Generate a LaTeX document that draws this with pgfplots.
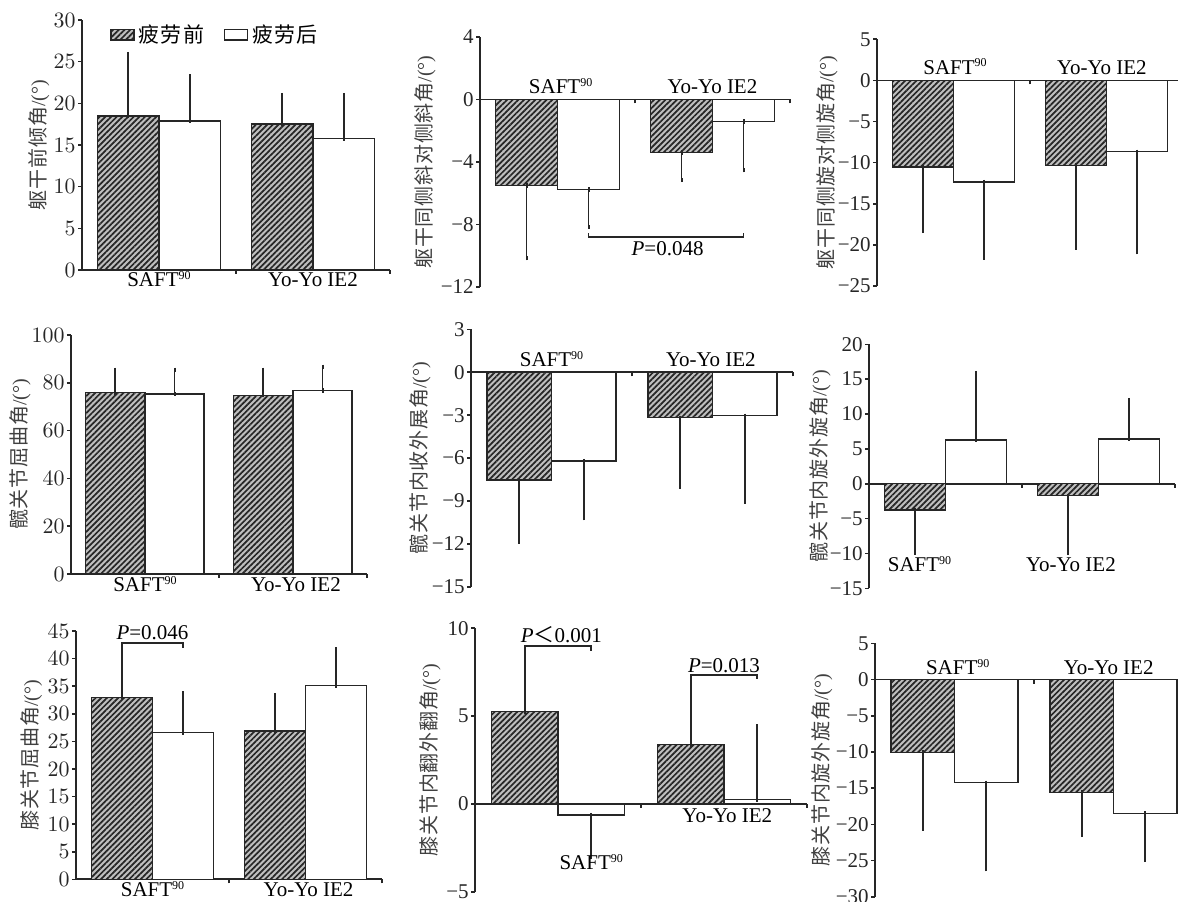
\documentclass[border=0pt]{standalone}
\usepackage{fontspec}
\setmainfont{Liberation Serif}
\newfontfamily\cjk[LetterSpace=4]{Noto Sans CJK SC}
\newfontfamily\cjkleg[LetterSpace=6]{Noto Sans CJK SC}
\newfontfamily\cjkplain{Noto Sans CJK SC}
\usepackage{pgfplots}
\pgfplotsset{compat=1.18}
\usetikzlibrary{patterns.meta}

\pgfplotsset{
  panel/.style={
    scale only axis,
    axis y line*=left,
    axis x line*=middle,
    axis line style={-, line width=0.9pt, black!85},
    xmin=0.5, xmax=2.5,
    xtick={1.5,2.5}, xticklabels={},
    tick style={line width=0.8pt, black!85},
    major tick length=2pt,
    tick align=outside,
    ybar, bar width=0.4,
    clip=false,
    yticklabel style={font=\fontsize{10.5}{12}\selectfont, inner xsep=1pt, black!85},
    ylabel style={font=\fontsize{10}{11}\selectfont, black!75, anchor=center},
  },
  pre/.style={bar shift=-0.2, draw=black!85, line width=0.7pt, fill=black!25,
    postaction={pattern={Lines[angle=45,distance=2pt,line width=0.85pt]}, pattern color=black!85},
    error bars/.cd, y dir=both, y explicit, error mark=-,
    error bar style={line width=0.9pt, black!85},
    error mark options={black!85, line width=1pt, mark size=1.1pt}},
  post/.style={bar shift=0.2, draw=black!85, line width=0.7pt, fill=white,
    error bars/.cd, y dir=both, y explicit, error mark=-,
    error bar style={line width=0.9pt, black!85},
    error mark options={black!85, line width=1pt, mark size=1.1pt}},
}
\newcommand{\cat}{\fontsize{10.5}{12}\selectfont}
\newcommand{\saft}{SAFT\raisebox{0.75ex}{\fontsize{6}{6}\selectfont 90}}

\begin{document}
\begin{tikzpicture}
\useasboundingbox (0,0) rectangle (589pt,450.5pt);

% ---------- Panel 1 ----------
\begin{axis}[panel, at={(41pt,315.5pt)}, anchor=south west, width=154pt, height=125pt,
  ymin=0, ymax=30, ytick={0,5,10,15,20,25,30},
  ylabel={{\cjk 躯干前倾角}/(°)},
  ylabel style={at={(axis description cs:-0.14,0.5)}},
  area legend,
  legend image code/.code={\draw[#1] (0pt,-2.6pt) rectangle (11.5pt,2.6pt);},
  legend style={at={(axis description cs:0.09,1.0)}, anchor=north west, draw=none, fill=none,
    font=\cjkleg\fontsize{10.5}{12}\selectfont, inner sep=0pt, legend columns=2,
    /tikz/every even column/.append style={column sep=8pt}},
  legend cell align=left]
\addplot[pre] table[x=x,y=y,y error plus=ep,y error minus=em] {
x y ep em
1 18.5 7.4 0
2 17.5 3.5 0
};
\addplot[post] table[x=x,y=y,y error plus=ep,y error minus=em] {
x y ep em
1 17.9 5.3 0
2 15.8 5.2 0
};
\legend{疲劳前,疲劳后}
\node[anchor=base, font=\cat] at (axis cs:1,0) [yshift=-8.5pt] {\saft};
\node[anchor=base, font=\cat] at (axis cs:2,0) [yshift=-8.5pt] {Yo-Yo IE2};
\end{axis}

% ---------- Panel 2 ----------
\begin{axis}[panel, at={(240pt,307pt)}, anchor=south west, width=155pt, height=125pt,
  ymin=-12, ymax=4, ytick={-12,-8,-4,0,4}, yticklabels={−12,−8,−4,0,4},
  ylabel={{\cjk 躯干同侧斜对侧斜角}/(°)},
  ylabel style={at={(axis description cs:-0.177,0.5)}}]
\addplot[pre] table[x=x,y=y,y error plus=ep,y error minus=em] {
x y ep em
1 -5.5 0 4.65
2 -3.38 0 1.77
};
\addplot[post] table[x=x,y=y,y error plus=ep,y error minus=em] {
x y ep em
1 -5.75 0 2.4
2 -1.42 0 3.1
};
\node[anchor=base, font=\cat] at (axis cs:1.02,0) [yshift=2.9pt] {\saft};
\node[anchor=base, font=\cat] at (axis cs:2.0,0) [yshift=2.9pt] {Yo-Yo IE2};
\draw[line width=0.8pt, black!85] (axis cs:1.2,-8.55) -- (axis cs:1.2,-8.8) -- (axis cs:2.2,-8.8) -- (axis cs:2.2,-8.55);
\node[anchor=base, font=\cat] at (axis cs:1.71,-9.98) {\textit{P}=0.048};
\end{axis}

% ---------- Panel 3 ----------
\begin{axis}[panel, at={(438.5pt,307.5pt)}, anchor=south west, width=153pt, height=123.35pt,
  ymin=-25, ymax=5, ytick={-25,-20,-15,-10,-5,0,5}, yticklabels={−25,−20,−15,−10,−5,0,5},
  ylabel={{\cjk 躯干同侧旋对侧旋角}/(°)},
  ylabel style={at={(axis description cs:-0.163,0.5)}}]
\addplot[pre] table[x=x,y=y,y error plus=ep,y error minus=em] {
x y ep em
1 -10.55 0 7.75
2 -10.34 0 10.0
};
\addplot[post] table[x=x,y=y,y error plus=ep,y error minus=em] {
x y ep em
1 -12.37 0 9.2
2 -8.68 0 12.2
};
\node[anchor=base, font=\cat] at (axis cs:1.01,0) [yshift=3.2pt] {\saft};
\node[anchor=base, font=\cat] at (axis cs:1.97,0) [yshift=3.2pt] {Yo-Yo IE2};
\end{axis}

% ---------- Panel 4 ----------
\begin{axis}[panel, at={(35.5pt,163.5pt)}, anchor=south west, width=148pt, height=119.5pt,
  ymin=0, ymax=100, ytick={0,20,40,60,80,100},
  ylabel={{\cjk 髋关节屈曲角}/(°)},
  ylabel style={at={(axis description cs:-0.172,0.5)}}]
\addplot[pre] table[x=x,y=y,y error plus=ep,y error minus=em] {
x y ep em
1 76.0 9.4 0
2 74.8 10.6 0
};
\addplot[post] table[x=x,y=y,y error plus=ep,y error minus=em] {
x y ep em
1 75.3 10.1 0
2 76.7 10.0 0
};
\node[anchor=base, font=\cat] at (axis cs:1,0) [yshift=-8.8pt] {\saft};
\node[anchor=base, font=\cat] at (axis cs:2.02,0) [yshift=-8.8pt] {Yo-Yo IE2};
\end{axis}

% ---------- Panel 5 ----------
\begin{axis}[panel, at={(235.5pt,157.15pt)}, anchor=south west, width=161pt, height=128.65pt,
  ymin=-15, ymax=3, ytick={-15,-12,-9,-6,-3,0,3}, yticklabels={−15,−12,−9,−6,−3,0,3},
  ylabel={{\cjk 髋关节内收外展角}/(°)},
  ylabel style={at={(axis description cs:-0.158,0.5)}}]
\addplot[pre] table[x=x,y=y,y error plus=ep,y error minus=em] {
x y ep em
1 -7.54 0 4.3
2 -3.18 0 4.8
};
\addplot[post] table[x=x,y=y,y error plus=ep,y error minus=em] {
x y ep em
1 -6.21 0 4.0
2 -3.04 0 6.0
};
\node[anchor=base, font=\cat] at (axis cs:1.0,0) [yshift=2.7pt] {\saft};
\node[anchor=base, font=\cat] at (axis cs:1.99,0) [yshift=2.7pt] {Yo-Yo IE2};
\end{axis}

% ---------- Panel 6 ----------
\begin{axis}[panel, at={(434.5pt,156.35pt)}, anchor=south west, width=153pt, height=122pt,
  ymin=-15, ymax=20, ytick={-15,-10,-5,0,5,10,15,20}, yticklabels={−15,−10,−5,0,5,10,15,20},
  ylabel={{\cjk 髋关节内旋外旋角}/(°)},
  ylabel style={at={(axis description cs:-0.16,0.5)}}]
\addplot[pre] table[x=x,y=y,y error plus=ep,y error minus=em] {
x y ep em
1 -3.77 0 6.1
2 -1.72 0 8.2
};
\addplot[post] table[x=x,y=y,y error plus=ep,y error minus=em] {
x y ep em
1 6.27 9.6 0
2 6.41 5.6 0
};
\node[anchor=base, font=\cat] at (axis cs:0.83,-12.6) {\saft};
\node[anchor=base, font=\cat] at (axis cs:1.82,-12.6) {Yo-Yo IE2};
\end{axis}

% ---------- Panel 7 ----------
\begin{axis}[panel, at={(38pt,10.85pt)}, anchor=south west, width=153pt, height=124.15pt,
  ymin=0, ymax=45, ytick={0,5,10,15,20,25,30,35,40,45},
  ylabel={{\cjk 膝关节屈曲角}/(°)},
  ylabel style={at={(axis description cs:-0.145,0.5)}}]
\addplot[pre] table[x=x,y=y,y error plus=ep,y error minus=em] {
x y ep em
1 33.0 8.5 0
2 26.9 6.4 0
};
\addplot[post] table[x=x,y=y,y error plus=ep,y error minus=em] {
x y ep em
1 26.6 7.1 0
2 35.15 6.55 0
};
\node[anchor=base, font=\cat] at (axis cs:1,0) [yshift=-8.5pt] {\saft};
\node[anchor=base, font=\cat] at (axis cs:2.02,0) [yshift=-8.5pt] {Yo-Yo IE2};
\draw[line width=0.8pt, black!85] (axis cs:0.8,41.5) -- (axis cs:0.8,42.8) -- (axis cs:1.2,42.8) -- (axis cs:1.2,42.0);
\node[anchor=base, font=\cat] at (axis cs:1.0,43.4) {\textit{P}=0.046};
\end{axis}

% ---------- Panel 8 ----------
\begin{axis}[panel, at={(237.5pt,4.6pt)}, anchor=south west, width=166pt, height=131.8pt,
  ymin=-5, ymax=10, ytick={-5,0,5,10}, yticklabels={−5,0,5,10},
  ylabel={{\cjk 膝关节内翻外翻角}/(°)},
  ylabel style={at={(axis description cs:-0.135,0.5)}}]
\addplot[pre] table[x=x,y=y,y error plus=ep,y error minus=em] {
x y ep em
1 5.27 3.2 0
2 3.38 3.5 0
};
\addplot[post] table[x=x,y=y,y error plus=ep,y error minus=em] {
x y ep em
1 -0.63 0 2.36
2 0.24 4.16 0
};
\node[anchor=base, font=\cat] at (axis cs:1.2,-3.73) {\saft};
\node[anchor=base, font=\cat] at (axis cs:2.02,-1.08) {Yo-Yo IE2};
\draw[line width=0.8pt, black!85] (axis cs:0.8,8.46) -- (axis cs:0.8,8.99) -- (axis cs:1.2,8.99) -- (axis cs:1.2,8.72);
\node[anchor=base, font=\cat] at (axis cs:1.02,9.2) {\textit{P}{\cjkplain ＜}0.001};
\draw[line width=0.8pt, black!85] (axis cs:1.8,6.88) -- (axis cs:1.8,7.33) -- (axis cs:2.2,7.33) -- (axis cs:2.2,7.12);
\node[anchor=base, font=\cat] at (axis cs:2.0,7.5) {\textit{P}=0.013};
\end{axis}

% ---------- Panel 9 ----------
\begin{axis}[panel, at={(437.5pt,2.15pt)}, anchor=south west, width=159pt, height=126.65pt,
  ymin=-30, ymax=5, ytick={-30,-25,-20,-15,-10,-5,0,5}, yticklabels={−30,−25,−20,−15,−10,−5,0,5},
  ylabel={{\cjk 膝关节内旋外旋角}/(°)},
  ylabel style={at={(axis description cs:-0.167,0.5)}}]
\addplot[pre] table[x=x,y=y,y error plus=ep,y error minus=em] {
x y ep em
1 -10.1 0 10.45
2 -15.58 0 5.9
};
\addplot[post] table[x=x,y=y,y error plus=ep,y error minus=em] {
x y ep em
1 -14.25 0 11.95
2 -18.48 0 6.45
};
\node[anchor=base, font=\cat] at (axis cs:1.02,0) [yshift=2.45pt] {\saft};
\node[anchor=base, font=\cat] at (axis cs:1.97,0) [yshift=2.45pt] {Yo-Yo IE2};
\end{axis}
\end{tikzpicture}
\end{document}
